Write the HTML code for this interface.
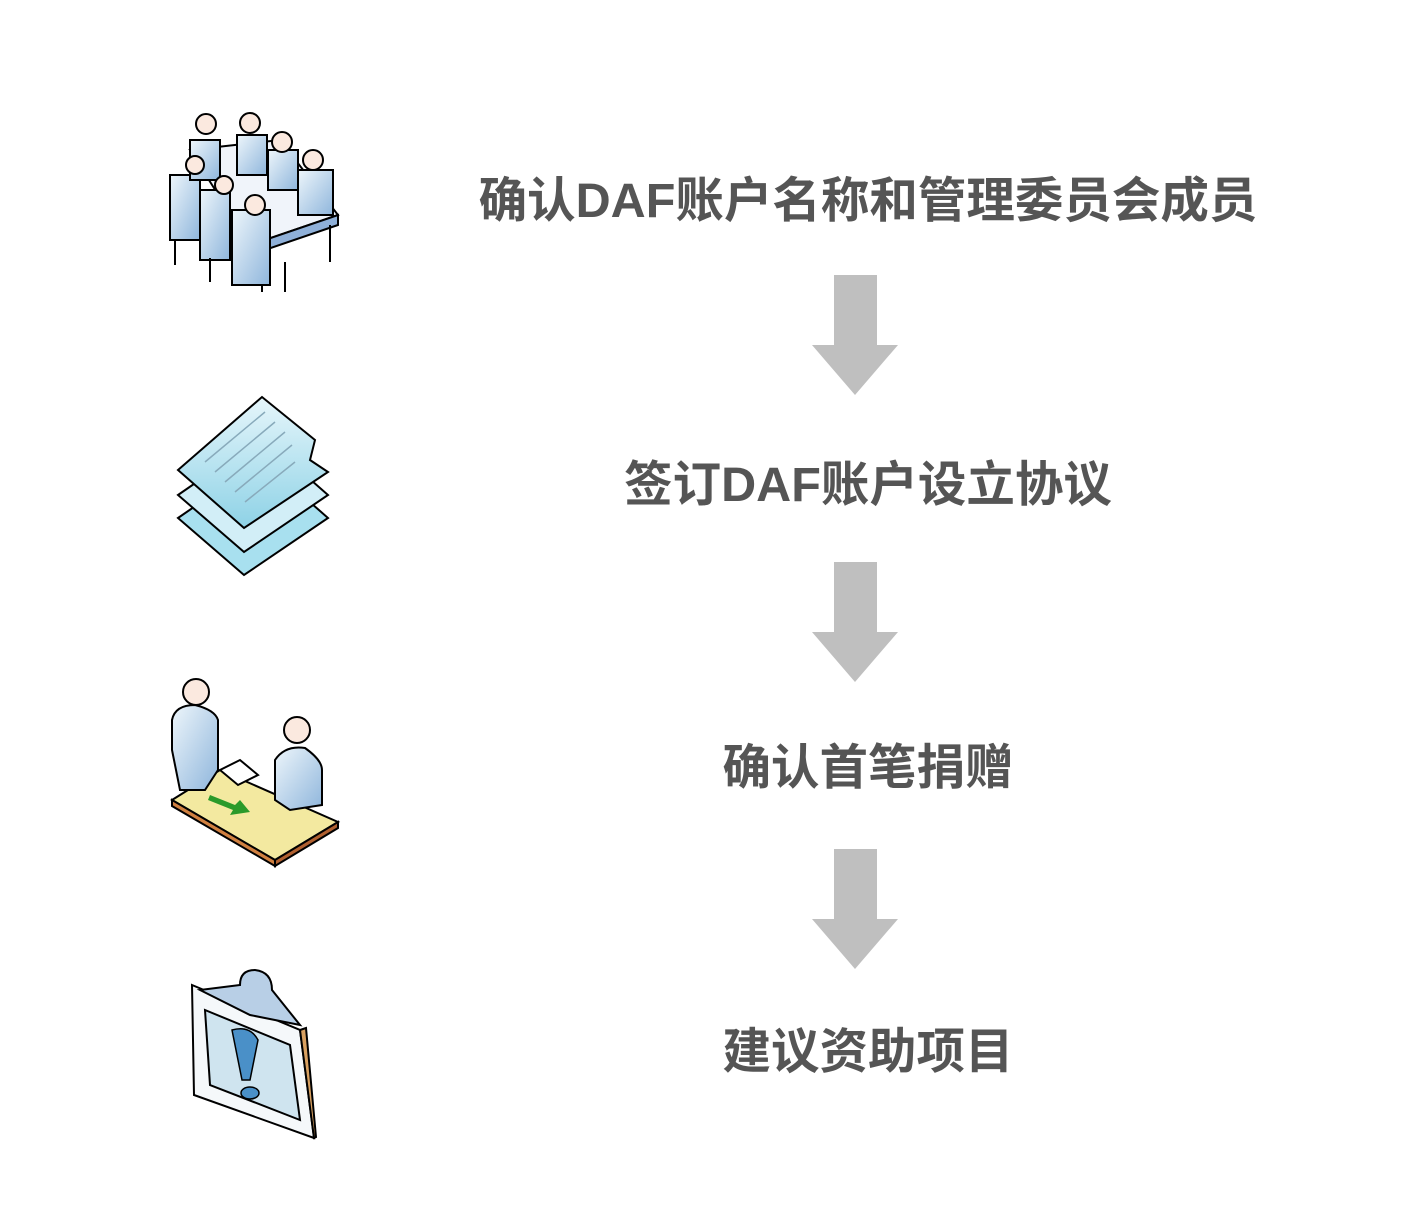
<!DOCTYPE html>
<html><head><meta charset="utf-8"><style>
body{margin:0;width:1413px;height:1231px;background:#fff;position:relative;overflow:hidden}
.t{position:absolute;left:0;width:1736px;text-align:center;font-family:"Liberation Sans","Noto Sans CJK SC",sans-serif;font-weight:bold;font-size:48.5px;color:#555;line-height:60px;white-space:nowrap}
svg{position:absolute;left:0;top:0}
</style></head><body>
<div class="t" style="top:171px">确认DAF账户名称和管理委员会成员</div>
<div class="t" style="top:455px">签订DAF账户设立协议</div>
<div class="t" style="top:738px">确认首笔捐赠</div>
<div class="t" style="top:1022px">建议资助项目</div>
<svg width="1413" height="1231">
<defs>
<linearGradient id="b" x1="0" y1="0" x2="1" y2="1"><stop offset="0" stop-color="#eef6fb"/><stop offset="1" stop-color="#8fb6dc"/></linearGradient>
<linearGradient id="c" x1="0" y1="0" x2="0" y2="1"><stop offset="0" stop-color="#e6f6fb"/><stop offset="1" stop-color="#8ed2e6"/></linearGradient>
</defs>
<g fill="#bfbfbf">
<polygon points="834,275 877,275 877,345 898,345 855,395 812,345 834,345"/>
<polygon points="834,562 877,562 877,632 898,632 855,682 812,632 834,632"/>
<polygon points="834,849 877,849 877,919 898,919 855,969 812,919 834,919"/>
</g>
<g stroke="#000" stroke-width="2">
<polygon points="190,150 280,140 338,215 250,245" fill="#f0f4fa"/>
<polygon points="250,245 338,215 338,225 250,255" fill="#8fb0d8"/>
<g fill="url(#b)">
<rect x="170" y="175" width="30" height="65"/><rect x="200" y="190" width="30" height="70"/><rect x="232" y="210" width="38" height="75"/>
<rect x="190" y="140" width="30" height="40"/><rect x="237" y="135" width="30" height="40"/><rect x="268" y="150" width="30" height="40"/><rect x="298" y="170" width="35" height="45"/>
</g>
<g fill="#fbe9df">
<circle cx="206" cy="124" r="10"/><circle cx="250" cy="123" r="10"/><circle cx="282" cy="142" r="10"/><circle cx="313" cy="160" r="10"/><circle cx="195" cy="165" r="9"/><circle cx="224" cy="185" r="9"/><circle cx="255" cy="205" r="10"/>
</g>
<line x1="175" y1="240" x2="175" y2="265"/><line x1="210" y1="258" x2="210" y2="282"/><line x1="262" y1="285" x2="262" y2="292"/><line x1="285" y1="262" x2="285" y2="292"/><line x1="330" y1="225" x2="330" y2="262"/>
</g>
<g stroke="#000" stroke-width="2">
<polygon points="178,518 262,460 328,518 244,575" fill="#a8e0ef"/>
<polygon points="178,495 262,437 328,495 244,552" fill="#d2eef7"/>
<polygon points="178,470 262,397 315,440 310,460 328,472 244,528" fill="url(#c)"/>
</g>
<g stroke="#8ab" stroke-width="1.5"><line x1="205" y1="462" x2="265" y2="412"/><line x1="215" y1="472" x2="275" y2="422"/><line x1="225" y1="482" x2="285" y2="432"/><line x1="235" y1="492" x2="292" y2="445"/><line x1="245" y1="502" x2="295" y2="462"/></g>
<g stroke="#000" stroke-width="2">
<polygon points="172,800 220,770 338,822 275,860" fill="#f3e9a0"/>
<polygon points="172,800 275,860 275,866 172,806" fill="#d08040"/>
<polygon points="275,860 338,822 338,828 275,866" fill="#b06030"/>
<path d="M172,750 L172,720 Q175,705 195,705 Q215,710 218,720 L218,770 L205,790 L180,790 Z" fill="url(#b)"/>
<circle cx="196" cy="692" r="13" fill="#fbe9df"/>
<path d="M275,800 L275,760 Q285,745 305,748 Q322,760 322,770 L322,805 L290,810 Z" fill="url(#b)"/>
<circle cx="297" cy="730" r="13" fill="#fbe9df"/>
<polygon points="220,770 240,760 258,775 238,785" fill="#fff"/>
</g>
<polygon points="210,795 235,805 240,800 250,812 230,815 233,810 208,800" fill="#2a9a2a"/>
<g stroke="#000" stroke-width="2">
<polygon points="192,985 300,1030 314,1138 194,1095" fill="#f5f8fa"/>
<polygon points="300,1030 306,1028 316,1137 314,1138" fill="#d8a060"/>
<polygon points="205,1010 290,1045 300,1120 210,1085" fill="#cfe4ef"/>
<path d="M200,990 L240,985 Q240,970 255,970 Q272,972 272,990 L300,1025 L250,1015 Z" fill="#b8cfe6"/>
</g>
<path d="M232,1030 Q250,1025 258,1040 L250,1080 L242,1080 Z" fill="#4a90c8" stroke="#000" stroke-width="1.5"/>
<ellipse cx="250" cy="1093" rx="9" ry="6" fill="#4a90c8" stroke="#000" stroke-width="1.5"/>
</svg>
</body></html>
